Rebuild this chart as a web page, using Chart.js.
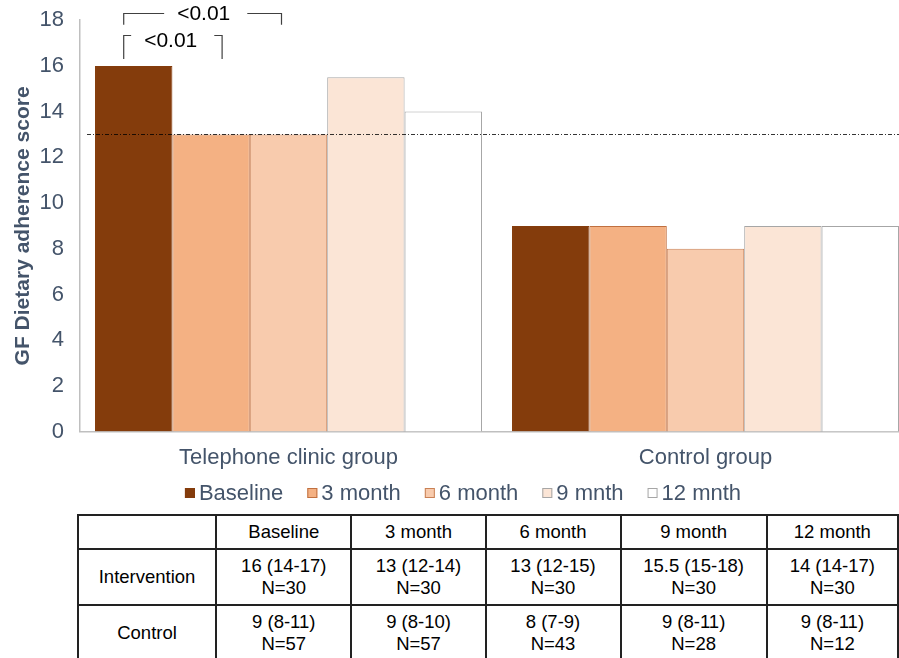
<!DOCTYPE html>
<html>
<head>
<meta charset="utf-8">
<script src="https://cdn.jsdelivr.net/npm/chart.js@4.4.0/dist/chart.umd.min.js"></script>
<style>
  html, body { margin: 0; padding: 0; background: #fff; overflow: hidden; }
  body { width: 899px; height: 658px; position: relative; }
  #wrap { position: absolute; left: 0; top: -9px; width: 926px; height: 519px; }
  table {
    position: absolute; left: 77px; top: 514px;
    border-collapse: collapse;
    font-family: "Liberation Sans", Arial, sans-serif;
    font-size: 18.5px; color: #000;
  }
  td { border: 2px solid #222; text-align: center; padding: 0; line-height: 22px; }
  tr.head td { height: 32px; }
  tr.row td { height: 54px; }
</style>
</head>
<body>
<div id="wrap"><canvas id="myChart"></canvas></div>

<table id="tbl"></table>

<script>
// Dados do gráfico
const groups = ['Telephone clinic group', 'Control group'];
const seriesNames = ['Baseline', '3 month', '6 month', '9 mnth', '12 mnth'];
const baseline = [16, 9];
const month3 = [13, 9];
const month6 = [13, 8];
const month9 = [15.5, 9];
const month12 = [14, 9];
const yTicks = [0, 2, 4, 6, 8, 10, 12, 14, 16, 18];
const refLine = 13;

// tabela
const tableCols = ['Baseline', '3 month', '6 month', '9 month', '12 month'];
const rowNames = ['Intervention', 'Control'];
const intervention = ['16 (14-17)', '13 (12-14)', '13 (12-15)', '15.5 (15-18)', '14 (14-17)'];
const interventionN = [30, 30, 30, 30, 30];
const control = ['9 (8-11)', '9 (8-10)', '8 (7-9)', '9 (8-11)', '9 (8-11)'];
const controlN = [57, 57, 43, 28, 12];

// comparações significativas (índices das séries no primeiro grupo)
const brackets = [
    { from: 0, to: 2, label: '<0.01', top: 18.3, bottom: 17.8, dxL: -10, dxR: -7, textX: 80 },
    { from: 0, to: 1, label: '<0.01', top: 17.35, bottom: 16.3, dxL: -10, dxR: 11, textX: 47 }
];

const fills = ['#843C0C', '#F4B183', '#F8CBAD', '#FBE5D6', '#FFFFFF'];
const borders = ['#843C0C', '#C07040', '#C98155', '#A6A6A6', '#A6A6A6'];
const values = [baseline, month3, month6, month9, month12];
const textColor = '#44546A';
const font = 'Liberation Sans, Arial, sans-serif';

const data = {
    labels: groups,
    datasets: seriesNames.map((name, i) => ({
        label: name,
        data: values[i],
        backgroundColor: fills[i],
        borderColor: borders[i],
        borderWidth: 1,
        categoryPercentage: 0.928,
        barPercentage: 1
    }))
};

const extras = {
    id: 'extras',
    afterDatasetsDraw(chart) {
        const ctx = chart.ctx;
        const y = chart.scales.y;
        const area = chart.chartArea;
        // linha de referência
        ctx.save();
        ctx.strokeStyle = '#000';
        ctx.lineWidth = 0.8;
        ctx.setLineDash([4, 2, 1, 2]);
        ctx.beginPath();
        const ry = Math.round(y.getPixelForValue(refLine)) + 0.5;
        ctx.moveTo(area.left + 7, ry);
        ctx.lineTo(area.right, ry);
        ctx.stroke();
        ctx.restore();

        // colchetes
        ctx.save();
        ctx.strokeStyle = '#404040';
        ctx.lineWidth = 1.2;
        ctx.fillStyle = '#000';
        ctx.font = '21px ' + font;
        ctx.textAlign = 'center';
        ctx.textBaseline = 'middle';
        brackets.forEach(b => {
            const x1 = chart.getDatasetMeta(b.from).data[0].x + b.dxL;
            const x2 = chart.getDatasetMeta(b.to).data[0].x + b.dxR;
            const yt = Math.round(y.getPixelForValue(b.top)) + 0.5;
            const yb = y.getPixelForValue(b.bottom);
            const w = ctx.measureText(b.label).width;
            const xm = x1 + b.textX;
            ctx.beginPath();
            ctx.moveTo(x1, yb);
            ctx.lineTo(x1, yt);
            ctx.lineTo(Math.max(x1 + 3, xm - w / 2 - 13), yt);
            ctx.moveTo(Math.min(x2 - 6, xm + w / 2 + 17), yt);
            ctx.lineTo(x2, yt);
            ctx.lineTo(x2, yb);
            ctx.stroke();
            ctx.fillText(b.label, xm, yt + (b.to === 1 ? 6 : 1));
        });
        ctx.restore();
    },
    // legenda desenhada à mão para ficar com os espaços do original
    afterDraw(chart) {
        const ctx = chart.ctx;
        const ds = chart.data.datasets;
        const box = 10, gap = 4, space = 24;
        ctx.save();
        ctx.font = '22px ' + font;
        ctx.textBaseline = 'middle';
        let total = 0;
        ds.forEach((d, i) => {
            total += box + gap + ctx.measureText(d.label).width + (i < ds.length - 1 ? space : 0);
        });
        let x = 463 - total / 2;
        const yy = chart.scales.x.bottom + 9;
        ds.forEach(d => {
            ctx.fillStyle = d.backgroundColor;
            ctx.fillRect(x, yy - box / 2, box, box);
            ctx.strokeStyle = d.borderColor;
            ctx.lineWidth = 1;
            ctx.strokeRect(x + 0.5, yy - box / 2 + 0.5, box - 1, box - 1);
            x += box + gap;
            ctx.fillStyle = textColor;
            ctx.fillText(d.label, x, yy + 1);
            x += ctx.measureText(d.label).width + space;
        });
        ctx.restore();
    }
};

const options = {
    responsive: true,
    maintainAspectRatio: false,
    animation: false,
    layout: { padding: { top: 8, right: 12, left: 0, bottom: 26 } },
    plugins: {
        legend: { display: false },
        tooltip: { enabled: false }
    },
    scales: {
        x: {
            grid: { display: false, drawTicks: false },
            border: { color: '#BFBFBF', width: 1.5 },
            ticks: { color: textColor, font: { size: 22, family: font }, padding: 13 }
        },
        y: {
            min: 0,
            max: 18,
            afterBuildTicks(scale) { scale.ticks = yTicks.map(v => ({ value: v })); },
            afterFit(scale) { scale.width = 80; },
            grid: { display: false, drawTicks: false },
            border: { color: '#BFBFBF', width: 1.5 },
            ticks: { color: textColor, font: { size: 22, family: font }, padding: 16 },
            title: {
                display: true,
                text: 'GF Dietary adherence score',
                color: textColor,
                font: { size: 21, weight: 'bold', family: font },
                padding: { top: 11, bottom: 2 }
            }
        }
    }
};

const ctx = document.getElementById('myChart').getContext('2d');
const myChart = new Chart(ctx, {
    type: 'bar',
    data: data,
    options: options,
    plugins: [extras]
});

// montar a tabela
function qs(selector, all = false) {
    return all ? document.querySelectorAll(selector) : document.querySelector(selector)
}
const widths = [139, 138, 138, 139, 151, 135];
let html = '<tr class="head"><td style="width:' + widths[0] + 'px"></td>';
tableCols.forEach((c, i) => { html += '<td style="width:' + widths[i + 1] + 'px">' + c + '</td>'; });
html += '</tr>';
[[intervention, interventionN], [control, controlN]].forEach((r, k) => {
    html += '<tr class="row"><td>' + rowNames[k] + '</td>';
    r[0].forEach((v, i) => { html += '<td>' + v + '<br>N=' + r[1][i] + '</td>'; });
    html += '</tr>';
});
qs('#tbl').innerHTML = html;
</script>
</body>
</html>
